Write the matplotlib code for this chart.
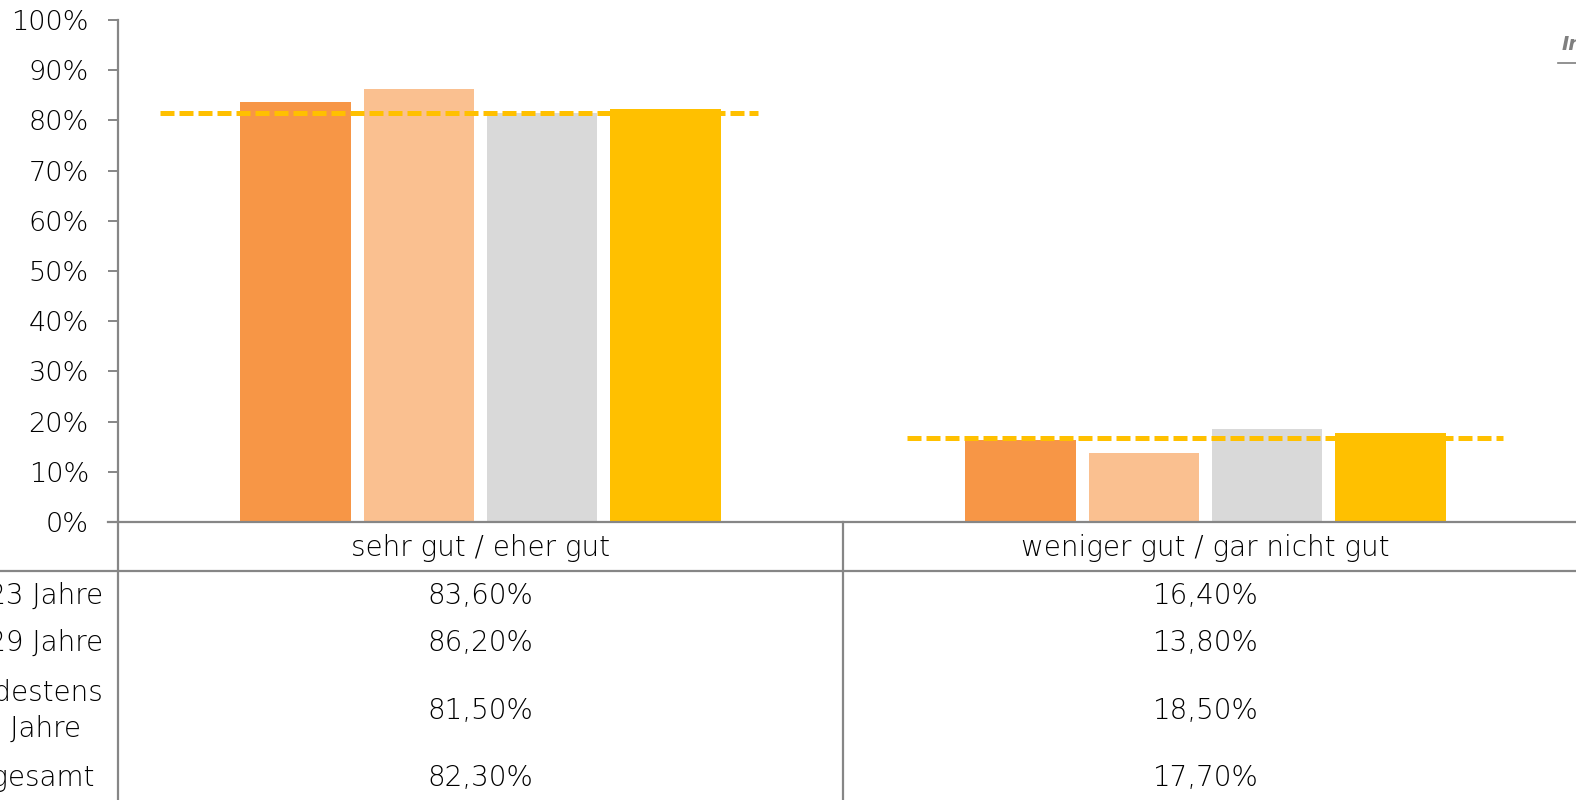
import matplotlib.pyplot as plt
from matplotlib.transforms import blended_transform_factory
import numpy as np

plt.rcParams["font.family"] = ["DejaVu Sans"]

# --- data ---
categories = ["sehr gut / eher gut", "weniger gut / gar nicht gut"]
row_labels = ["18-23 Jahre", "24-29 Jahre", "mindestens\n30 Jahre", "Insgesamt"]
series = [
    [83.6, 16.4],
    [86.2, 13.8],
    [81.5, 18.5],
    [82.3, 17.7],
]
reference = [81.5, 16.8]   # dashed comparison line
colors = ["#F79646", "#FAC090", "#D9D9D9", "#FFC000"]
line_color = "#FFC000"
grid_grey = "#868686"
text_col = "#000000"

W, H = 1576, 800
fig = plt.figure(figsize=(W / 100, H / 100), dpi=100)

# plot area in pixels: x 118..1568, y 20..522 (from top)
ax = fig.add_axes([118 / W, (H - 522) / H, 1450 / W, 502 / H])
x = np.arange(len(categories))
step, width = 0.1697, 0.153
offsets = (np.arange(len(series)) - 1.5) * step
for vals, off, c in zip(series, offsets, colors):
    ax.bar(x + off, vals, width=width, color=c, linewidth=0, zorder=2)

line_start = [-0.442, -0.412]
line_end = [0.383, 0.41]
for i, v in enumerate(reference):
    ax.plot([i + line_start[i], i + line_end[i]], [v, v], color=line_color,
            lw=3.6, dashes=(2.8, 1.0), solid_capstyle="butt", zorder=3)

ax.set_xlim(-0.5, len(categories) - 0.5)
ax.set_ylim(0, 100)
ax.set_yticks(range(0, 101, 10))
ax.set_yticklabels([f"{t}%" for t in range(0, 101, 10)])
ax.tick_params(axis="y", length=7, width=1.4, color=grid_grey, pad=14,
               labelsize=19.5, labelcolor=text_col)
for lab in ax.get_yticklabels():
    lab.set_fontweight("light")
ax.set_xticks([])
for s in ["top", "right"]:
    ax.spines[s].set_visible(False)
ax.spines["left"].set_color(grid_grey)
ax.spines["left"].set_linewidth(1.6)
ax.spines["bottom"].set_visible(False)

# --- data table below the plot (figure pixel coordinates, y from top) ---
tr = blended_transform_factory(ax.transData, fig.transFigure)

def fy(py):
    return (H - py) / H

lk = dict(color=grid_grey, lw=1.6, transform=fig.transFigure, clip_on=False)
fig.add_artist(plt.Line2D([108 / W, 1], [fy(522), fy(522)], **lk))
fig.add_artist(plt.Line2D([0, 1], [fy(571), fy(571)], **lk))
fig.add_artist(plt.Line2D([118 / W, 118 / W], [fy(522), 0], **lk))
fig.add_artist(plt.Line2D([843 / W, 843 / W], [fy(522), 0], **lk))

fs = 20
tk = dict(fontsize=fs, color=text_col, fontweight="light")
for i, cat in enumerate(categories):
    fig.text(i, fy(548), cat, transform=tr, ha="center", va="center", **tk)

row_y = [596, 643, 711, 778]
for r, (lab, vals) in enumerate(zip(row_labels, series)):
    fig.text(23 / W, fy(row_y[r]), lab, ha="center", va="center",
             multialignment="center", linespacing=1.35, **tk)
    for i, v in enumerate(vals):
        fig.text(i, fy(row_y[r]), f"{v:.2f}%".replace(".", ","),
                 transform=tr, ha="center", va="center", **tk)

# clipped note in top-right corner
fig.text(1562 / W, fy(45), "Insgesamt", ha="left", va="center", fontsize=14,
         style="italic", weight="bold", color="#7F7F7F")
fig.add_artist(plt.Line2D([1558 / W, 1], [fy(63), fy(63)], color="#7F7F7F",
                          lw=1.2, transform=fig.transFigure))

fig.savefig("out.png", dpi=100)
